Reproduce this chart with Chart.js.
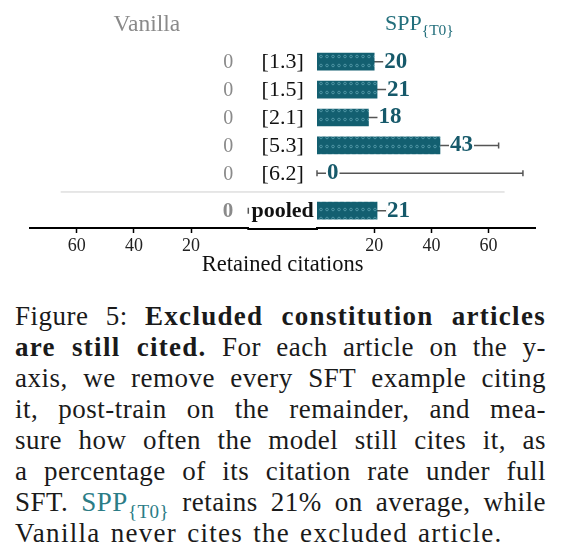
<!DOCTYPE html>
<html>
<head>
<meta charset="utf-8">
<script src="https://cdn.jsdelivr.net/npm/chart.js@4.4.1/dist/chart.umd.min.js"></script>
<style>
  html, body { margin: 0; padding: 0; background: #fff; }
  #fig { position: relative; width: 562px; height: 552px; overflow: hidden; }
  #fig canvas { position: absolute; left: 0; top: 0; }
  #caption {
    position: absolute; left: 15px; top: 301px; width: 531px;
    font-family: "Liberation Serif", serif; font-size: 27px; line-height: 31px; color: #1a1a1a;
    letter-spacing: 0.5px;
  }
  #caption div { text-align: justify; text-align-last: justify; white-space: nowrap; }
  #caption div.last { text-align-last: left; letter-spacing: 1.3px; word-spacing: 2px; }
  #caption b { letter-spacing: 1.3px; }
  #caption .spp { color: #2b7c86; }
  #caption sub { font-size: 19px; vertical-align: -7px; line-height: 0; }
</style>
</head>
<body>
<div id="fig">
  <canvas id="left" width="562" height="280"></canvas>
  <canvas id="right" width="562" height="280"></canvas>
  <div id="caption">
    <div>Figure 5: <b>Excluded constitution articles</b></div>
    <div><b>are still cited.</b> For each article on the y-</div>
    <div>axis, we remove every SFT example citing</div>
    <div>it, post-train on the remainder, and mea-</div>
    <div>sure how often the model still cites it, as</div>
    <div>a percentage of its citation rate under full</div>
    <div>SFT. <span class="spp">SPP<sub>{T0}</sub></span> retains 21% on average, while</div>
    <div class="last">Vanilla never cites the excluded article.</div>
  </div>
</div>
<script>
// data
const categories = ['[1.3]', '[1.5]', '[2.1]', '[5.3]', '[6.2]', 'pooled'];
const vanillaValues = [0, 0, 0, 0, 0, 0];
const sppValues = [20, 21, 18, 43, 0, 21];
const sppErrLow = [16, 17, 14, 24, 0, 18];
const sppErrHigh = [25, 26, 22, 63.5, 72, 24.4];
const vanillaErrLow = [null, null, null, null, null, 0];
const vanillaErrHigh = [null, null, null, null, null, 0];
const tickValues = [20, 40, 60];

// layout: row slots on the y axis (pooled sits a bit lower, below the rule)
const rowPos = [0, 1, 2, 3, 4, 5.34];
const pooledIdx = 5;

const SERIF = '"Liberation Serif", serif';
const GREY = '#8a8a8a';
const TEAL = '#135f70';
const TEAL_TEXT = '#16596a';
const ERR = '#555555';

Chart.defaults.font.family = SERIF;

function dotPattern() {
  const c = document.createElement('canvas');
  c.width = 6; c.height = 9;
  const g = c.getContext('2d');
  g.fillStyle = TEAL;
  g.fillRect(0, 0, 6, 9);
  g.strokeStyle = '#5c9fae';
  g.lineWidth = 0.8;
  g.beginPath();
  g.arc(3, 2.5, 1.3, 0, Math.PI * 2);
  g.stroke();
  return g.createPattern(c, 'repeat');
}

function drawErr(ctx, xs, ypx, lo, hi) {
  const a = xs.getPixelForValue(lo), b = xs.getPixelForValue(hi);
  ctx.beginPath();
  ctx.moveTo(a, ypx); ctx.lineTo(b, ypx);
  ctx.moveTo(a, ypx - 3); ctx.lineTo(a, ypx + 3);
  ctx.moveTo(b, ypx - 3); ctx.lineTo(b, ypx + 3);
  ctx.stroke();
}

function xAxis(reverse) {
  return {
    type: 'linear', min: 0, max: 76.5, reverse: reverse,
    afterBuildTicks: s => { s.ticks = tickValues.map(v => ({ value: v })); },
    afterFit: s => { s.height = 52; },
    grid: { drawOnChartArea: false, drawTicks: true, tickLength: 5, tickWidth: 1.5, color: '#000' },
    border: { display: true, width: 2, color: '#000' },
    ticks: { font: { size: 18 }, color: '#222', padding: 2, maxRotation: 0 }
  };
}

const yAxis = { type: 'linear', reverse: true, offset: false, min: -1.315, max: 5.961, display: false };

// zero-width bars would leave a hairline, so hide them
const hideZero = col => c => (c.raw && c.raw.x === 0 ? 'rgba(0,0,0,0)' : col);

let leftChart;

const leftDeco = {
  id: 'leftDeco',
  beforeDatasetsDraw(chart) {
    const { ctx, scales: { x, y } } = chart;
    ctx.save();
    ctx.strokeStyle = ERR; ctx.lineWidth = 1.5;
    categories.forEach((c, i) => {
      if (vanillaErrLow[i] === null) return;
      drawErr(ctx, x, y.getPixelForValue(rowPos[i]), vanillaErrLow[i], vanillaErrHigh[i]);
    });
    ctx.restore();
  },
  afterDatasetsDraw(chart) {
    const { ctx, chartArea, scales: { x, y } } = chart;
    ctx.save();
    ctx.fillStyle = GREY;
    ctx.textAlign = 'right';
    ctx.textBaseline = 'middle';
    categories.forEach((c, i) => {
      ctx.font = (i === pooledIdx ? 'bold 21px ' : '20px ') + SERIF;
      ctx.fillText(String(vanillaValues[i]), x.getPixelForValue(vanillaValues[i]) - 15, y.getPixelForValue(rowPos[i]) + 1);
    });
    ctx.font = '23.5px ' + SERIF;
    ctx.textAlign = 'center';
    ctx.textBaseline = 'alphabetic';
    ctx.fillText('Vanilla', (chartArea.left + chartArea.right) / 2 + 8, 31);
    ctx.restore();
  }
};

const rightDeco = {
  id: 'rightDeco',
  beforeDatasetsDraw(chart) {
    const { ctx, chartArea, scales: { x, y } } = chart;
    const lx = leftChart.scales.x;
    ctx.save();
    // axis spine through the gap between the two panels
    ctx.strokeStyle = '#000'; ctx.lineWidth = 2;
    ctx.beginPath();
    ctx.moveTo(lx.getPixelForValue(0) - 1, chartArea.bottom + 1);
    ctx.lineTo(chartArea.left + 1, chartArea.bottom + 1);
    ctx.stroke();
    // rule above the pooled row
    const ySep = y.getPixelForValue((rowPos[pooledIdx - 1] + rowPos[pooledIdx]) / 2);
    ctx.strokeStyle = '#cfcfcf'; ctx.lineWidth = 1;
    ctx.beginPath();
    ctx.moveTo(lx.getPixelForValue(65.6), ySep);
    ctx.lineTo(x.getPixelForValue(65.6), ySep);
    ctx.stroke();
    // error bars
    ctx.strokeStyle = ERR; ctx.lineWidth = 1.5;
    categories.forEach((c, i) => {
      drawErr(ctx, x, y.getPixelForValue(rowPos[i]), sppErrLow[i], sppErrHigh[i]);
    });
    ctx.restore();
  },
  afterDatasetsDraw(chart) {
    const { ctx, chartArea, scales: { x, y } } = chart;
    const lx = leftChart.scales.x;
    const mid = (lx.getPixelForValue(0) + x.getPixelForValue(0)) / 2;
    ctx.save();
    ctx.textBaseline = 'middle';
    categories.forEach((c, i) => {
      const yp = y.getPixelForValue(rowPos[i]);
      // value labels with white box over the error bar
      ctx.font = 'bold 23px ' + SERIF;
      const t = String(Math.round(sppValues[i]));
      const tx = x.getPixelForValue(sppValues[i]) + 10;
      const w = ctx.measureText(t).width;
      ctx.fillStyle = '#fff';
      ctx.fillRect(tx - 1, yp - 9, w + 2, 18);
      ctx.fillStyle = TEAL_TEXT;
      ctx.textAlign = 'left';
      ctx.fillText(t, tx, yp);
      // category labels
      ctx.font = (i === pooledIdx ? 'bold 22px ' : '22px ') + SERIF;
      ctx.fillStyle = '#111';
      ctx.textAlign = 'center';
      ctx.fillText(c, mid, yp + 1);
    });
    // panel title with subscript
    ctx.textBaseline = 'alphabetic';
    ctx.fillStyle = '#236f7c';
    ctx.textAlign = 'left';
    ctx.font = '22px ' + SERIF;
    const w1 = ctx.measureText('SPP').width;
    ctx.font = '15.5px ' + SERIF;
    const w2 = ctx.measureText('{T0}').width;
    const tx0 = (chartArea.left + chartArea.right) / 2 - 7 - (w1 + w2) / 2;
    ctx.font = '22px ' + SERIF;
    ctx.fillText('SPP', tx0, 30);
    ctx.font = '15.5px ' + SERIF;
    ctx.fillText('{T0}', tx0 + w1, 35);
    // x axis title, centred between the panels
    ctx.font = '22.5px ' + SERIF;
    ctx.fillStyle = '#111';
    ctx.textAlign = 'center';
    ctx.textBaseline = 'middle';
    ctx.fillText('Retained citations', mid, 265);
    ctx.restore();
  }
};

function build() {
  leftChart = new Chart(document.getElementById('left'), {
    type: 'bar',
    data: {
      datasets: [{
        data: vanillaValues.map((v, i) => ({ x: v, y: rowPos[i] })),
        backgroundColor: hideZero(GREY),
        barThickness: 17
      }]
    },
    options: {
      indexAxis: 'y', responsive: false, animation: false,
      layout: { padding: { left: 29.5, right: 562 - 248.3, top: 25, bottom: 0 } },
      plugins: { legend: { display: false }, tooltip: { enabled: false } },
      scales: { x: xAxis(true), y: yAxis }
    },
    plugins: [leftDeco]
  });

  const dots = dotPattern();
  new Chart(document.getElementById('right'), {
    type: 'bar',
    data: {
      datasets: [{
        data: sppValues.map((v, i) => ({ x: v, y: rowPos[i] })),
        backgroundColor: hideZero(dots),
        barThickness: 17
      }]
    },
    options: {
      indexAxis: 'y', responsive: false, animation: false,
      layout: { padding: { left: 317, right: 562 - 535.8, top: 25, bottom: 0 } },
      plugins: { legend: { display: false }, tooltip: { enabled: false } },
      scales: { x: xAxis(false), y: yAxis }
    },
    plugins: [rightDeco]
  });
}

Promise.all([
  document.fonts.load('20px "Liberation Serif"'),
  document.fonts.load('bold 20px "Liberation Serif"')
]).then(build, build);
</script>
</body>
</html>
